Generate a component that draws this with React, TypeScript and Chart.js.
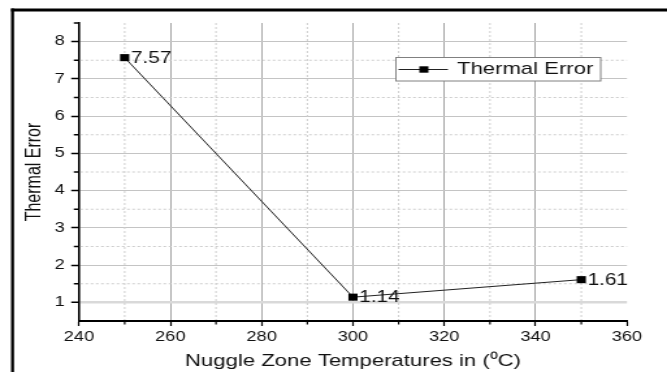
import React, { useEffect, useRef } from 'react';
import { Chart, registerables } from 'chart.js';

Chart.register(...registerables);

// ---- data ----
const temperatures = [250, 300, 350];
const thermalError = [7.57, 1.14, 1.61];
const pointLabels = ['7.57', '1.14', '1.61'];
const seriesName = 'Thermal Error';
const xTitle = 'Nuggle Zone Temperatures in (\u2070C)';
const yTitle = 'Thermal Error';
const xRange = [240, 360];
const xStep = 10;
const xMajorStep = 20;
const yRange = [0.5, 8.5];
const yStep = 0.5;

// ---- layout ----
const CANVAS_W = 513;
const CANVAS_H = 372;
const FONT = '"Liberation Sans", Arial, Helvetica, sans-serif';
const TEXT = '#111111';

const isMajorX = (v: number) => v % xMajorStep === 0;
const isMajorY = (v: number) => Number.isInteger(v);

const framePlugin = {
  id: 'frame',
  beforeDraw(chart: any) {
    const { ctx, width, height } = chart;
    ctx.save();
    ctx.fillStyle = '#ffffff';
    ctx.fillRect(0, 0, width, height);
    ctx.fillStyle = '#000000';
    ctx.fillRect(8.5, 8.5, 2.3, height - 8.5);
    ctx.fillRect(8.5, 8.5, width - 8.5, 3);
    ctx.restore();
  },
};

const minorPlugin = {
  id: 'minorGrid',
  beforeDatasetsDraw(chart: any) {
    const { ctx, chartArea, scales } = chart;
    const { left, right, top, bottom } = chartArea;
    const x = scales.x;
    const y = scales.y;
    ctx.save();
    ctx.strokeStyle = '#cdcdcd';
    ctx.lineWidth = 1;
    ctx.setLineDash([2, 2]);
    x.ticks.forEach((t: any) => {
      if (!isMajorX(t.value)) {
        const px = x.getPixelForValue(t.value);
        ctx.beginPath();
        ctx.moveTo(px, top);
        ctx.lineTo(px, bottom - 1);
        ctx.stroke();
      }
    });
    y.ticks.forEach((t: any) => {
      if (!isMajorY(t.value) && t.value > yRange[0] && t.value < yRange[1]) {
        const py = y.getPixelForValue(t.value);
        ctx.beginPath();
        ctx.moveTo(left + 1, py);
        ctx.lineTo(right, py);
        ctx.stroke();
      }
    });
    ctx.setLineDash([]);
    ctx.strokeStyle = '#000000';
    ctx.lineWidth = 1.2;
    x.ticks.forEach((t: any) => {
      if (!isMajorX(t.value)) {
        const px = x.getPixelForValue(t.value);
        ctx.beginPath();
        ctx.moveTo(px, bottom);
        ctx.lineTo(px, bottom + 3.5);
        ctx.stroke();
      }
    });
    ctx.lineWidth = 1.5;
    y.ticks.forEach((t: any) => {
      if (!isMajorY(t.value) && t.value > yRange[0]) {
        const py = y.getPixelForValue(t.value);
        ctx.beginPath();
        ctx.moveTo(left - 4, py);
        ctx.lineTo(left, py);
        ctx.stroke();
      }
    });
    ctx.restore();
  },
};

const labelPlugin = {
  id: 'labelsAndLegend',
  afterDatasetsDraw(chart: any) {
    const { ctx } = chart;
    const meta = chart.getDatasetMeta(0);
    ctx.save();
    ctx.fillStyle = TEXT;
    ctx.font = `16px ${FONT}`;
    ctx.textBaseline = 'middle';
    ctx.textAlign = 'left';
    meta.data.forEach((el: any, i: number) => {
      ctx.fillText(pointLabels[i], el.x + 4.8, el.y + 0.5);
    });

    // legend box
    const bx = 304.5, by = 57.5, bw = 157.5, bh = 23.5;
    ctx.fillStyle = '#ffffff';
    ctx.fillRect(bx, by, bw, bh);
    ctx.strokeStyle = '#808080';
    ctx.lineWidth = 1;
    ctx.strokeRect(bx, by, bw, bh);
    const ly = 69.5;
    ctx.strokeStyle = '#222222';
    ctx.beginPath();
    ctx.moveTo(306.5, ly);
    ctx.lineTo(344.5, ly);
    ctx.stroke();
    ctx.fillStyle = '#000000';
    ctx.fillRect(326 - 3.5, ly - 3.2, 7, 6.4);
    ctx.fillStyle = TEXT;
    ctx.font = `17px ${FONT}`;
    ctx.fillText(seriesName, 351.5, ly);
    ctx.restore();
  },
};

export default function App() {
  const ref = useRef<HTMLCanvasElement | null>(null);

  useEffect(() => {
    if (!ref.current) return;
    Chart.defaults.font.family = FONT;
    const tickVal = (c: any) => (c && c.tick ? c.tick.value : NaN);
    const chart = new Chart(ref.current, {
      type: 'line',
      data: {
        datasets: [
          {
            label: seriesName,
            data: temperatures.map((t, i) => ({ x: t, y: thermalError[i] })),
            borderColor: '#222222',
            borderWidth: 1,
            pointStyle: 'rect',
            pointRadius: 5,
            pointBackgroundColor: '#000000',
            pointBorderColor: '#000000',
            pointBorderWidth: 0,
            tension: 0,
            clip: false as any,
          },
        ],
      },
      options: {
        responsive: false,
        animation: false,
        events: [],
        layout: { padding: { left: 0, right: 30.8, top: 23, bottom: 0 } },
        plugins: {
          legend: { display: false },
          tooltip: { enabled: false },
        },
        scales: {
          x: {
            type: 'linear',
            min: xRange[0],
            max: xRange[1],
            afterFit: (s: any) => {
              s.height = 51;
            },
            ticks: {
              stepSize: xStep,
              autoSkip: false,
              maxRotation: 0,
              padding: 3,
              color: TEXT,
              font: { family: FONT, size: 14 },
              callback: (v: any) => (isMajorX(Number(v)) ? String(v) : ''),
            },
            grid: {
              color: (c: any) => {
                const v = tickVal(c);
                return isMajorX(v) && v > xRange[0] && v < xRange[1] ? '#a6a6a6' : 'rgba(0,0,0,0)';
              },
              lineWidth: 1,
              tickLength: 5,
              tickWidth: 1.2,
              tickColor: (c: any) => (isMajorX(tickVal(c)) ? '#000000' : 'rgba(0,0,0,0)'),
            },
            border: { color: '#000000', width: 2 },
            title: {
              display: true,
              text: xTitle,
              color: TEXT,
              font: { family: FONT, size: 17 },
              padding: { top: 0, bottom: 0 },
            },
          },
          y: {
            type: 'linear',
            min: yRange[0],
            max: yRange[1],
            afterFit: (s: any) => {
              s.width = 60.76;
            },
            ticks: {
              stepSize: yStep,
              autoSkip: false,
              padding: 5,
              color: TEXT,
              font: { family: FONT, size: 14 },
              callback: (v: any) => (isMajorY(Number(v)) ? String(v) : ''),
            },
            grid: {
              color: (c: any) => {
                const v = tickVal(c);
                if (!isMajorY(v) || v <= yRange[0] || v >= yRange[1]) return 'rgba(0,0,0,0)';
                return v === 1 ? '#d9d9d9' : '#c4c4c4';
              },
              lineWidth: (c: any) => (tickVal(c) === 1 ? 2.5 : 1),
              tickLength: 6,
              tickWidth: 1.5,
              tickColor: (c: any) => (isMajorY(tickVal(c)) ? '#000000' : 'rgba(0,0,0,0)'),
            },
            border: { color: '#000000', width: 1.6 },
            title: {
              display: true,
              text: yTitle,
              color: TEXT,
              font: { family: FONT, size: 16 },
              padding: { top: 17, bottom: 0 },
            },
          },
        },
      } as any,
      plugins: [framePlugin, minorPlugin, labelPlugin],
    });
    return () => chart.destroy();
  }, []);

  return (
    <canvas
      ref={ref}
      width={CANVAS_W}
      height={CANVAS_H}
      style={{ position: 'absolute', left: 0, top: 0, width: '667px', height: '372px' }}
    />
  );
}
